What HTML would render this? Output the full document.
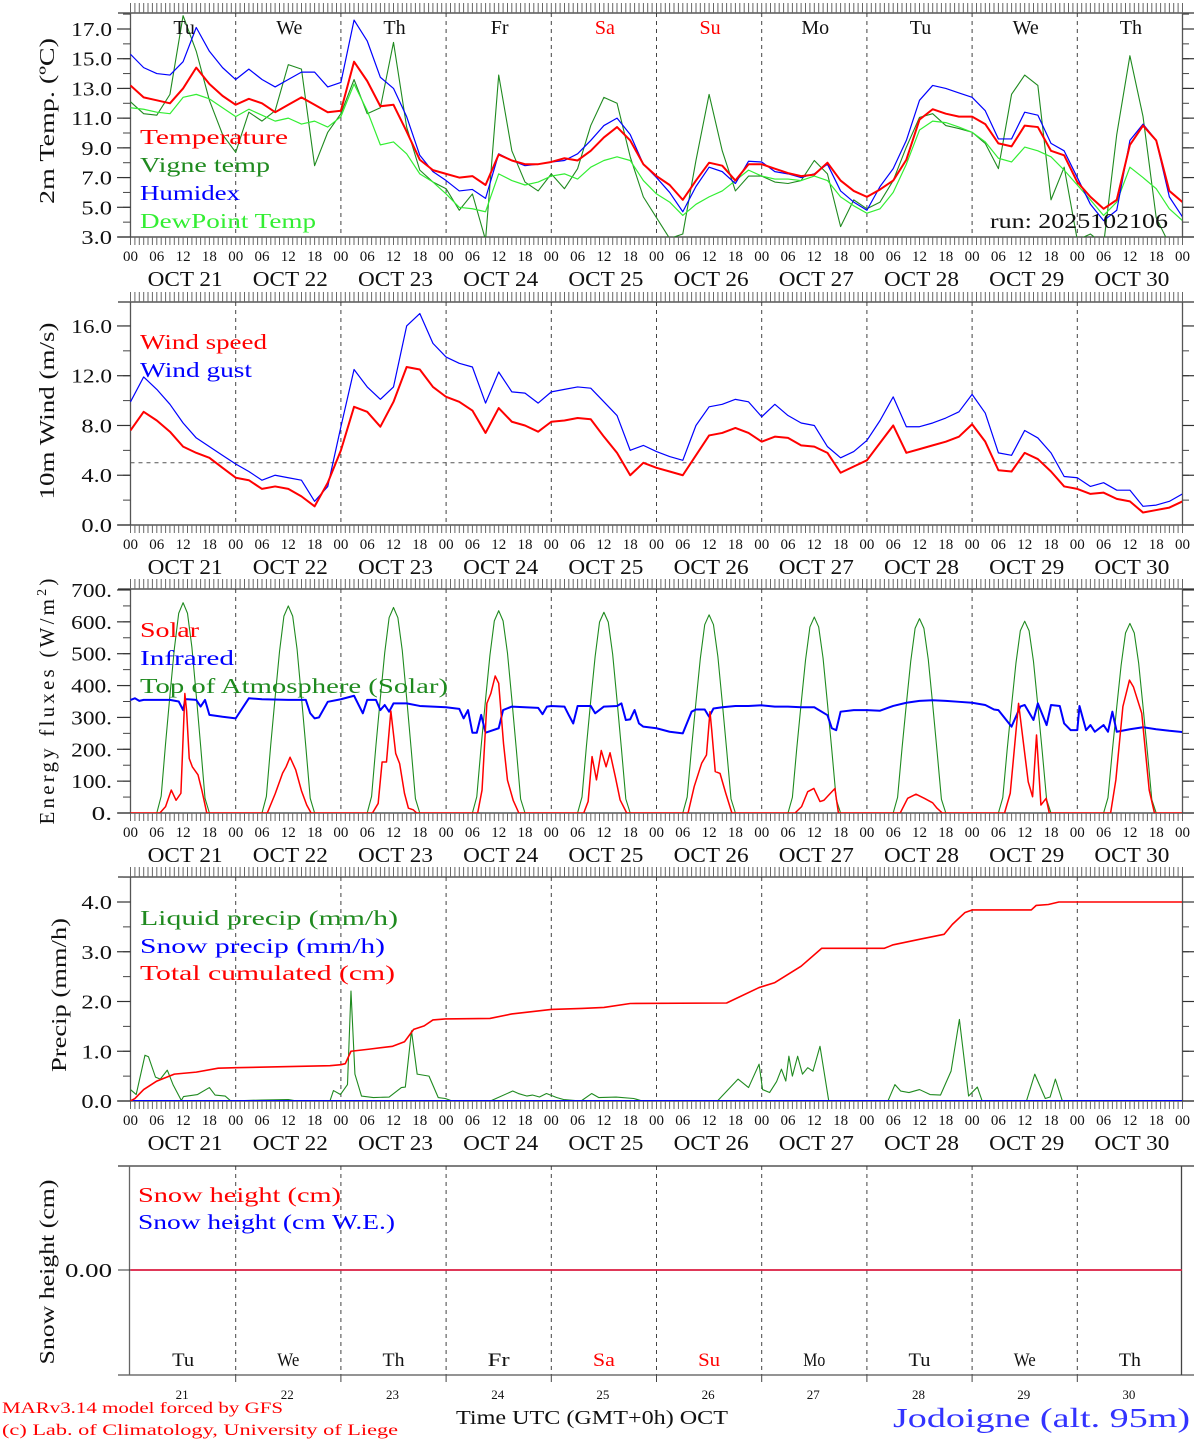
<!DOCTYPE html>
<html><head><meta charset="utf-8">
<style>
html,body{margin:0;padding:0;background:#fff;}
svg{display:block;font-family:"Liberation Serif","DejaVu Serif",serif;}
</style></head>
<body>
<svg id="chart" width="1194" height="1440" viewBox="0 0 1194 1440" xmlns="http://www.w3.org/2000/svg">
<defs>
<clipPath id="c1"><rect x="130" y="13" width="1052" height="224"/></clipPath>
<clipPath id="c2"><rect x="130" y="302" width="1052" height="223"/></clipPath>
<clipPath id="c3"><rect x="130" y="589" width="1052" height="224"/></clipPath>
<clipPath id="c4"><rect x="130" y="877" width="1052" height="224"/></clipPath>
<clipPath id="c5"><rect x="130" y="1166" width="1052" height="209"/></clipPath>
</defs>
<g id="root"></g>
</svg>
<script>
// ---------- DATA ----------
const dayNames = ['Tu','We','Th','Fr','Sa','Su','Mo','Tu','We','Th'];
const dayColors = ['k','k','k','k','r','r','k','k','k','k'];
const dayNums = ['21','22','23','24','25','26','27','28','29','30'];
const hourLabels = ['00','06','12','18'];
const stepHours = 3;
const tempTicks = [3,5,7,9,11,13,15,17];
const windTicks = [0,4,8,12,16];
const fluxTicks = [0,100,200,300,400,500,600,700];
const precTicks = [0,1,2,3,4];

const temp = [13.2,12.4,12.2,12.0,13.0,14.4,13.3,12.5, 11.9,12.3,12.0,11.4,11.9,12.4,11.9,11.4, 11.5,14.8,13.5,11.8,11.9,10.1,8.2,7.5, 7.25,7.0,7.1,6.5,8.55,8.15,7.9,7.9, 8.05,8.3,8.15,8.8,9.7,10.4,9.5,7.9, 7.1,6.5,5.5,6.8,8.0,7.8,6.8,7.9, 7.9,7.6,7.3,7.1,7.2,8.0,6.8,6.1, 5.7,6.2,6.8,8.2,10.9,11.6,11.3,11.1, 11.1,10.6,9.3,9.1,10.5,10.4,8.8,8.5, 6.7,5.7,4.9,5.5,9.2,10.5,9.5,6.1, 5.35];
const vigne = [12.1,11.3,11.2,12.6,17.9,15.5,12.2,9.9, 8.7,11.4,10.8,11.5,14.6,14.3,7.8,10.05, 11.3,13.6,11.3,11.7,16.1,10.4,7.5,6.7, 6.25,4.8,5.9,2.8,13.9,8.8,6.7,6.1, 7.25,6.25,7.6,10.5,12.4,12.0,8.4,5.7, 4.3,2.9,3.2,8.15,12.6,8.8,6.1,7.1, 7.1,6.7,6.6,6.8,8.15,7.25,3.7,5.5, 4.9,5.35,6.8,9.05,11.05,11.3,10.5,10.3, 10.05,9.3,7.6,12.6,13.9,13.2,5.5,7.7, 2.8,3.2,2.5,9.9,15.2,11.1,4.3,2.5, 2.3];
const humidex = [15.3,14.4,14.0,13.9,14.8,17.1,15.5,14.4, 13.6,14.3,13.6,13.1,13.6,14.1,14.1,13.1, 13.4,17.6,16.2,13.75,13.0,11.1,8.5,7.4, 6.8,6.1,6.2,5.6,8.6,8.15,7.8,7.9, 8.05,8.15,8.6,9.5,10.5,11.0,9.9,7.9, 7.0,6.0,4.7,6.4,7.7,7.4,6.6,8.1, 8.05,7.4,7.25,7.0,7.25,7.9,6.1,5.35, 4.8,6.4,7.6,9.5,12.2,13.2,13.0,12.7, 12.4,11.5,9.6,9.6,11.4,11.2,9.3,8.8, 7.0,5.2,4.1,4.8,9.5,10.6,9.5,5.7, 4.35];
const dewpoint = [11.7,11.6,11.4,11.3,12.4,12.6,12.3,11.7, 11.1,11.6,11.2,10.8,11.0,10.6,10.8,10.4, 11.1,13.3,11.5,9.2,9.4,8.6,7.25,6.7, 5.9,5.0,4.9,4.7,7.25,6.8,6.5,6.7, 7.1,7.25,6.9,7.7,8.15,8.4,8.15,6.8, 5.9,5.35,4.45,5.2,5.7,6.1,6.8,7.5, 7.1,6.9,6.9,6.8,7.1,6.8,5.7,5.1, 4.6,4.9,6.0,7.9,10.2,10.8,10.7,10.4, 10.05,9.4,8.3,8.05,9.05,8.8,8.4,7.5, 6.5,5.5,4.45,5.35,7.7,7.0,6.25,4.9, 4.1];

const windSpeed = [7.6,9.1,8.4,7.5,6.3,5.8,5.4,4.6, 3.8,3.6,2.9,3.1,2.9,2.3,1.5,3.4, 6.0,9.5,9.1,7.9,9.9,12.7,12.5,11.1, 10.3,9.9,9.2,7.4,9.4,8.3,8.0,7.5, 8.3,8.4,8.6,8.5,7.1,5.8,4.0,5.0, 4.6,4.3,4.0,5.6,7.2,7.4,7.8,7.4, 6.7,7.1,7.0,6.4,6.3,5.8,4.2,4.7, 5.2,6.6,8.0,5.8,6.1,6.4,6.7,7.1, 8.1,6.7,4.4,4.3,5.8,5.3,4.3,3.1, 2.9,2.5,2.6,2.1,1.9,1.0,1.2,1.4, 1.9];
const windGust = [9.9,11.9,10.9,9.7,8.2,7.0,6.3,5.6, 4.9,4.3,3.6,4.0,3.8,3.6,1.9,3.1, 7.9,12.5,11.1,10.1,11.1,16.0,17.0,14.6, 13.5,13.0,12.7,9.8,12.3,10.7,10.6,9.8, 10.7,10.9,11.1,11.0,9.9,8.8,6.0,6.4, 5.9,5.5,5.2,8.0,9.5,9.7,10.1,9.9, 8.7,9.7,8.8,8.2,8.0,6.3,5.4,5.9, 6.8,8.4,10.3,7.9,7.9,8.2,8.6,9.1, 10.5,9.0,5.8,5.6,7.6,7.0,5.8,3.9, 3.8,3.1,3.4,2.8,2.8,1.5,1.6,1.9, 2.5];
const windRef = 5.0;

const solarT = [0,6.7,8,9.3,10.4,11.5,12.4,12.8,13.4,14.1,15.4,16.3,17.4, 31.2,33,34.7,35.5,36.4,37.7,39,40.2,41.2, 55.2,56.5,57.4,58.4,59.4,60.5,61.4,62.5,63.4,64.5,65.3, 79.2,80.2,81.3,82.2,83.2,84.0,85.1,86,87.3,88.6, 103.4,104.4,105.3,106.3,107.4,108.5,109.4,110.6,111.7,113.2, 127.2,128.6,130.3,131.4,132.2,132.6,133.4,134.5,135.8,137.2, 151.6,153.1,154.5,155.9,157.3,158.2,159.2,160.7,161.5, 175.6,177.3,179.2,181.1,183,184,185.2, 199.4,200.7,202.6,204.8,205.8,206.7,207.7,208.9,209.6, 223.6,224.8,226.4,227.9,228.8,230.7,232.4,233.6,240];
const solarV = [0,0,20,72,40,62,375,320,171,145,120,70,0, 0,60,125,145,175,135,70,25,0, 0,30,160,160,320,187,155,62,15,10,0, 0,72,344,375,430,407,218,103,40,0, 0,36,177,104,196,145,189,114,41,0, 0,83,156,182,318,260,130,124,62,0, 0,20,67,77,36,40,55,77,0, 0,46,59,46,32,15,0, 0,62,344,98,51,245,25,46,0, 0,104,334,417,396,313,72,0,0];

const infraT = [0,1,2,3,6,9,11,12,12.5,13,15,16,17,18,21,24,27,30,36,39,40,41,42,43,45,48,51,53,54,56,57,58,59,60,63,66,69,72,75,76,77,78,79,80,81,84,85,87,90,93,94,95,96,99,100,101,102,105,106,108,111,112,113,114,115,116,117,120,123,126,128,129,131,132,133,135,138,141,144,147,150,153,156,159,160,161,162,165,168,171,174,177,180,183,186,189,192,195,197,198,201,203,204,206,207,209,210,212,213,214.5,216,216.5,218,219,220,222,223,224,225,228,231,234,237,240];
const infraV = [355,360,352,355,355,355,350,323,357,357,355,334,355,308,302,297,360,357,355,355,355,313,297,300,349,357,368,313,355,355,323,339,318,344,344,336,334,332,327,297,323,252,252,308,252,266,323,334,332,330,310,334,336,334,307,281,336,336,313,334,336,344,292,294,323,281,271,266,255,250,318,325,325,302,328,332,336,336,338,334,334,332,332,307,266,260,318,323,323,321,336,346,352,354,352,349,346,339,325,323,271,334,339,292,344,276,339,336,281,260,260,336,260,276,255,276,255,318,255,263,269,263,258,254];

const toaDaily = [
 [0,53,218,370,515,627,660,627,521,370,211,46,0],
 [0,52,215,364,507,618,650,618,514,364,208,46,0],
 [0,52,213,361,503,613,645,613,510,361,206,45,0],
 [0,51,210,356,495,603,635,603,502,356,203,44,0],
 [0,50,208,353,491,599,630,599,498,353,202,44,0],
 [0,50,205,348,485,591,622,591,491,348,199,44,0],
 [0,49,203,344,480,584,615,584,486,344,197,43,0],
 [0,49,201,342,476,580,610,580,482,342,195,43,0],
 [0,48,199,337,470,572,602,572,476,337,193,42,0],
 [0,48,196,333,464,565,595,565,470,333,190,42,0]];

const cumT = [0,1,3,6,10,15,20,24,45.5,48,49,50.3,54.3,59.8,62.5,64.6,67,69,71.8,82,87,96,103,108,114,136,143.4,147,153,157.7,172,174,180,185.6,187.5,190.4,192,205.5,206.6,209.4,211.8,240];
const cumV = [0,0.05,0.23,0.40,0.54,0.58,0.66,0.67,0.71,0.73,0.75,1.0,1.04,1.1,1.19,1.44,1.51,1.63,1.65,1.66,1.75,1.84,1.86,1.88,1.96,1.97,2.28,2.38,2.71,3.07,3.07,3.14,3.25,3.35,3.55,3.79,3.84,3.84,3.93,3.95,4.0,4.0];
const liqT = [0,1.3,3.3,4.1,5.7,6.8,8.4,9.7,11.6,12.1,15.3,18,19.3,21.6,22.9,30,36,38,45.5,46.3,47.9,49.5,50.3,51.2,52.7,55.4,59,61.8,62.7,64.1,65.4,68.1,70.2,71.8,73.4,82.1,87.2,88.5,90.4,91.7,93.3,94.9,97.2,98.8,102.8,105.2,106.8,110.8,114.8,116.8,133.9,138.6,141,143.4,144.2,145.8,147.4,148.5,149.5,150.2,151,152.2,153.3,154.5,155.7,157.3,159.3,172.8,174.4,175.7,177.6,180,182.4,184.8,187.2,189.1,191.2,193.2,194.3,204.4,206.3,208.7,209.8,211,212.6,240];
const liqV = [0.23,0.13,0.92,0.89,0.48,0.44,0.62,0.33,0.01,0.09,0.13,0.27,0.12,0.1,0,0.02,0.03,0,0,0.21,0.13,0.33,2.21,0.54,0.1,0.07,0.08,0.27,0.28,1.41,0.54,0.5,0.07,0.05,0,0,0.2,0.15,0.1,0.12,0.08,0.15,0.07,0.03,0,0.15,0.07,0.08,0.05,0,0,0.44,0.27,0.74,0.23,0.17,0.39,0.64,0.4,0.9,0.5,0.9,0.54,0.67,0.6,1.1,0,0,0.33,0.2,0.17,0.23,0.13,0.12,0.6,1.64,0.1,0.28,0,0,0.54,0.05,0.08,0.44,0];
const snowT = [0,240];
const snowV = [0,0];
const snowHeightT = [0,240];
const snowHeightV = [0,0];

// ---------- AXES ----------
const X0 = 130.5, DW = 105.2, XR = 1182.5;
const xh = h => X0 + h * DW / 24;
const yTemp = v => 237 - (v - 3) * 208 / 14;
const yWind = v => 525 - v * 12.44;
const yFlux = v => 813 - v * 0.3186;
const yPrec = v => 1101 - v * 49.75;
const ySnow = v => 1270 - v * 100;

const NS = 'http://www.w3.org/2000/svg';
const root = document.getElementById('root');
function el(tag, attrs, parent) {
  const e = document.createElementNS(NS, tag);
  for (const k in attrs) e.setAttribute(k, attrs[k]);
  (parent || root).appendChild(e);
  return e;
}
function txt(s, attrs, parent) { const t = el('text', attrs, parent); t.textContent = s; return t; }

function frame(name, top, bot, ticks, yf, fmt, minorStep, hourTicks) {
  const g = el('g', {});
  
  
  for (let d = 1; d < 10; d++) {
    const l = el('line', {x1: xh(d*24), x2: xh(d*24), y1: top, y2: bot, stroke: '#444', 'stroke-width': 1, 'stroke-dasharray': '4,4'}, g);
    
    
  }
  el('line', {x1: 118, x2: 1194, y1: top, y2: top, stroke: '#333', 'stroke-width': 1.3}, g);
  el('line', {x1: 118, x2: 1194, y1: bot, y2: bot, stroke: '#333', 'stroke-width': 1.3}, g);
  el('line', {x1: X0, x2: X0, y1: top, y2: bot, stroke: '#555', 'stroke-width': 1.3}, g);
  el('line', {x1: XR, x2: XR, y1: top, y2: bot, stroke: '#555', 'stroke-width': 1.3}, g);
  if (hourTicks) {
    let d = '';
    for (let h = 0; h <= 240; h++) {
      const x = xh(h).toFixed(1);
      d += `M${x},${top-10}V${top}M${x},${bot}V${bot+8}`;
    }
    el('path', {d: d, stroke: '#666', 'stroke-width': 1, fill: 'none'}, g);
  }
  if (minorStep) {
    const lo = ticks[0], hi = ticks[ticks.length-1] + minorStep;
    for (let v = lo; v <= hi + 1e-9; v += minorStep) {
      const y = yf(v); if (y < top - 0.5) break;
      el('line', {x1: 123, x2: X0, y1: y, y2: y, stroke: '#444'}, g);
      el('line', {x1: XR, x2: 1189, y1: y, y2: y, stroke: '#444'}, g);
    }
  }
  ticks.forEach(v => {
    const y = yf(v);
    el('line', {x1: 117, x2: X0, y1: y, y2: y, stroke: '#333', 'stroke-width': 1.2}, g);
    el('line', {x1: XR, x2: 1194, y1: y, y2: y, stroke: '#333', 'stroke-width': 1.2}, g);
    const s = fmt(v);
    const t = txt(s, {x: 112, y: y + 7, 'font-size': 20, 'text-anchor': 'end', fill: '#111', textLength: s.length * 10.2, lengthAdjust: 'spacingAndGlyphs'}, g);
    
    
  });
  return g;
}

function xLabels(bot) {
  const g = el('g', {});
  
  
  for (let d = 0; d <= 10; d++) {
    for (let k = 0; k < 4; k++) {
      if (d === 10 && k > 0) break;
      const t = txt(hourLabels[k], {x: xh(d*24 + k*6), y: bot + 24, 'font-size': 15, 'text-anchor': 'middle', fill: '#111'}, g);
      
      
    }
    if (d < 10) {
      const t = txt('OCT ' + dayNums[d], {x: xh(d*24 + 12) + 2, y: bot + 49, 'font-size': 21, 'text-anchor': 'middle', fill: '#111', textLength: 75, lengthAdjust: 'spacingAndGlyphs'}, g);
      
      
    }
  }
}

function seriesPts(times, vals, yf) {
  return vals.map((v, i) => xh(times[i]).toFixed(2) + ',' + yf(v).toFixed(2)).join(' ');
}
function series3h(vals, yf) {
  return vals.map((v, i) => xh(i * stepHours).toFixed(2) + ',' + yf(v).toFixed(2)).join(' ');
}
function line(name, pts, color, w, clip) {
  const p = el('polyline', {points: pts, fill: 'none', stroke: color, 'stroke-width': w, 'stroke-linejoin': 'round', 'clip-path': 'url(#' + clip + ')'});
  
  
  return p;
}
function legend(name, s, x, y, color, w) {
  const t = txt(s, {x: x, y: y, 'font-size': 21, fill: color, textLength: w, lengthAdjust: 'spacingAndGlyphs'});
  
  
}
function yTitle(name, s, x, y, len) {
  const t = txt(s, {x: 0, y: 0, 'font-size': 21, 'text-anchor': 'middle', fill: '#111', textLength: len, lengthAdjust: 'spacingAndGlyphs', transform: `translate(${x},${y}) rotate(-90)`});
  
  
  return t;
}

const DG = '#1f8a1f', LG = '#33ee33', RED = '#ff0000', BLUE = '#0000ff';

// ---- Panel 1: temperature
frame('temperature', 13, 237, tempTicks, yTemp, v => v.toFixed(1), 1, true);
xLabels(237);
line('vigne-temp-line', series3h(vigne, yTemp), DG, 1.1, 'c1');
line('dewpoint-line', series3h(dewpoint, yTemp), LG, 1.2, 'c1');
line('humidex-line', series3h(humidex, yTemp), BLUE, 1.2, 'c1');
line('temperature-line', series3h(temp, yTemp), RED, 2, 'c1');
dayNames.forEach((n, i) => {
  const t = txt(n, {x: xh(i*24+12) + 1, y: 34, 'font-size': 20, 'text-anchor': 'middle', fill: dayColors[i] === 'r' ? RED : '#111'});
  
  
});
legend('legend-temperature', 'Temperature', 140, 144, RED, 148);
legend('legend-vigne-temp', 'Vigne temp', 140, 172, DG, 130);
legend('legend-humidex', 'Humidex', 140, 200, BLUE, 100);
legend('legend-dewpoint', 'DewPoint Temp', 140, 228, LG, 176);
legend('run-label', 'run: 2025102106', 990, 228, '#111', 178);
yTitle('temperature-axis-title', '2m Temp. (\u00BAC)', 54, 121, 166);

// ---- Panel 2: wind
frame('wind', 302, 525, windTicks, yWind, v => v.toFixed(1), 2, true);
xLabels(525);
{
  const l = el('line', {x1: X0, x2: XR, y1: yWind(windRef), y2: yWind(windRef), stroke: '#555', 'stroke-dasharray': '4,4'});
  
  
}
line('wind-gust-line', series3h(windGust, yWind), BLUE, 1.2, 'c2');
line('wind-speed-line', series3h(windSpeed, yWind), RED, 2, 'c2');
legend('legend-wind-speed', 'Wind speed', 140, 349, RED, 127);
legend('legend-wind-gust', 'Wind gust', 140, 377, BLUE, 112);
yTitle('wind-axis-title', '10m Wind (m/s)', 54, 411, 177);

// ---- Panel 3: energy
frame('energy', 589, 813, fluxTicks, yFlux, v => v.toFixed(0) + '.', 50, true);
xLabels(813);
{
  const tT = [], tV = [];
  toaDaily.forEach((day, d) => day.forEach((v, k) => { tT.push(d*24 + 6 + k); tV.push(v); }));
  tT.unshift(0); tV.unshift(0); tT.push(240); tV.push(0);
  line('toa-solar-line', seriesPts(tT, tV, yFlux), DG, 1.1, 'c3');
}
line('infrared-line', seriesPts(infraT, infraV, yFlux), BLUE, 2, 'c3');
line('solar-line', seriesPts(solarT, solarV, yFlux), RED, 1.5, 'c3');
legend('legend-solar', 'Solar', 140, 637, RED, 59);
legend('legend-infrared', 'Infrared', 140, 665, BLUE, 94);
legend('legend-toa', 'Top of Atmosphere (Solar)', 140, 693, DG, 308);
{
  const t = yTitle('energy-axis-title', '', 54, 700, 235);
  t.removeAttribute('textLength');
  t.removeAttribute('lengthAdjust');
  t.setAttribute('font-size', 21);
  t.setAttribute('letter-spacing', '3.2');
  t.innerHTML = 'Energy fluxes (W/m<tspan font-size="14" dy="-8">2</tspan><tspan dy="8">)</tspan>';
}

// ---- Panel 4: precip
frame('precip', 877, 1101, precTicks, yPrec, v => v.toFixed(1), 0.5, true);
xLabels(1101);
line('liquid-precip-line', seriesPts(liqT, liqV, yPrec), DG, 1.1, 'c4');
line('snow-precip-line', seriesPts(snowT, snowV, yPrec), BLUE, 2, 'c4');
line('total-cumulated-line', seriesPts(cumT, cumV, yPrec), RED, 1.6, 'c4');
legend('legend-liquid-precip', 'Liquid precip (mm/h)', 140, 925, DG, 258);
legend('legend-snow-precip', 'Snow precip (mm/h)', 140, 953, BLUE, 245);
legend('legend-total-cumulated', 'Total cumulated (cm)', 140, 980, RED, 255);
yTitle('precip-axis-title', 'Precip (mm/h)', 66, 995, 154);

// ---- Panel 5: snow
{
  const g = el('g', {});
  
  
  for (let d = 1; d < 10; d++) {
    el('line', {x1: xh(d*24), x2: xh(d*24), y1: 1166, y2: 1375, stroke: '#444', 'stroke-dasharray': '4,4'}, g);
    el('line', {x1: xh(d*24), x2: xh(d*24), y1: 1375, y2: 1382, stroke: '#444'}, g);
  }
  el('line', {x1: 118, x2: 1194, y1: 1166, y2: 1166, stroke: '#333', 'stroke-width': 1.3}, g);
  el('line', {x1: 118, x2: 1194, y1: 1375, y2: 1375, stroke: '#555', 'stroke-width': 1.3}, g);
  el('line', {x1: X0 - 1, x2: X0 - 1, y1: 1166, y2: 1375, stroke: '#666', 'stroke-width': 1.3}, g);
  el('line', {x1: XR - 1, x2: XR - 1, y1: 1166, y2: 1375, stroke: '#444', 'stroke-width': 1.3}, g);
  el('line', {x1: 118, x2: X0, y1: 1270, y2: 1270, stroke: '#333'}, g);
  const t = txt('0.00', {x: 112, y: 1277, 'font-size': 20, 'text-anchor': 'end', fill: '#111', textLength: 47, lengthAdjust: 'spacingAndGlyphs'}, g);
  
  
}
line('snow-height-we-line', seriesPts(snowHeightT, snowHeightV, ySnow), BLUE, 1.5, 'c5');
line('snow-height-line', seriesPts(snowHeightT, snowHeightV, ySnow), '#ff2020', 1.5, 'c5');
legend('legend-snow-height', 'Snow height (cm)', 138, 1202, RED, 203);
legend('legend-snow-height-we', 'Snow height (cm W.E.)', 138, 1229, BLUE, 257);
yTitle('snow-axis-title', 'Snow height (cm)', 54, 1272, 185);
dayNames.forEach((n, i) => {
  const t = txt(n, {x: xh(i*24+12) + 0, y: 1366, 'font-size': 19, 'text-anchor': 'middle', fill: dayColors[i] === 'r' ? RED : '#111', textLength: n.length * 11, lengthAdjust: 'spacingAndGlyphs'});
  
  
  const u = txt(dayNums[i], {x: xh(i*24+12) - 1, y: 1399, 'font-size': 13, 'text-anchor': 'middle', fill: '#111'});
  
  
});
{
  const a = txt('Time UTC (GMT+0h) OCT', {x: 456, y: 1424, 'font-size': 20, fill: '#111', textLength: 272, lengthAdjust: 'spacingAndGlyphs'});
  
  
  const b = txt('MARv3.14 model forced by GFS', {x: 2, y: 1413, 'font-size': 16, fill: RED, textLength: 281, lengthAdjust: 'spacingAndGlyphs'});
  
  
  const c = txt('(c) Lab. of Climatology, University of Liege', {x: 2, y: 1435, 'font-size': 16, fill: RED, textLength: 396, lengthAdjust: 'spacingAndGlyphs'});
  
  
  const d = txt('Jodoigne (alt. 95m)', {x: 893, y: 1427, 'font-size': 27, fill: '#3333ff', textLength: 297, lengthAdjust: 'spacingAndGlyphs'});
  
  
}
</script>
</body></html>
